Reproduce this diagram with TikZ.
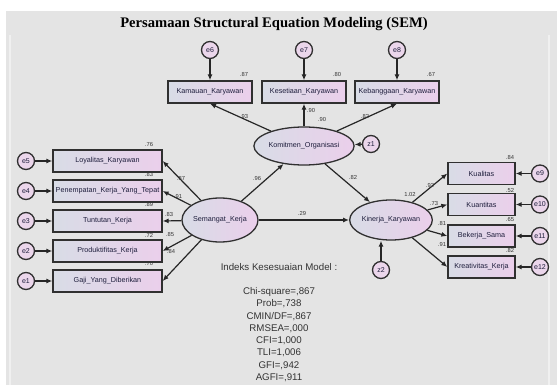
\documentclass[tikz,border=0pt]{standalone}
\usepackage{fontspec}
\setmainfont{Liberation Sans}
\newfontfamily\titlefont{Liberation Serif}
\usetikzlibrary{arrows.meta,shapes.geometric}
\definecolor{bgcol}{HTML}{E4E4E4}
\definecolor{lcol}{HTML}{D8DCE6}
\definecolor{rcol}{HTML}{EBCFEB}
\definecolor{circcol}{HTML}{EBD6EB}
\definecolor{edgecol}{HTML}{303030}
\definecolor{txtcol}{HTML}{1E1E3C}
\tikzset{
  obsbox/.style={draw=edgecol,line width=1.3pt,left color=lcol,right color=rcol,
    minimum height=22pt,inner sep=1pt,font=\fontsize{7.2}{8}\selectfont,text=txtcol},
  latent/.style={ellipse,draw=edgecol,line width=1.3pt,left color=lcol,right color=rcol,
    minimum width=76pt,minimum height=40pt,inner sep=0pt,font=\fontsize{7.2}{8}\selectfont,text=txtcol},
  errc/.style={circle,draw=edgecol,line width=1.3pt,fill=circcol,minimum size=17pt,
    inner sep=0pt,font=\fontsize{7}{8}\selectfont,text=txtcol},
  regarrow/.style={-{Latex[length=6pt,width=5pt]},line width=1.2pt,black!85},
  coef/.style={font=\fontsize{5.8}{6}\selectfont,text=black!80,inner sep=0.5pt},
  fitline/.style={font=\fontsize{9.7}{11}\selectfont,text=black!80,inner sep=0pt}
}
\begin{document}
\begin{tikzpicture}[x=1pt,y=-1pt]
\useasboundingbox (0,0) rectangle (558,385);
\fill[white] (0,0) rectangle (558,385);
\fill[bgcol] (6,11) rectangle (557,385);
\draw[white!45!bgcol,line width=1.5pt] (10,35) -- (10,385);
\draw[white!45!bgcol,line width=1.5pt] (549,35) -- (549,385);

\node[font=\titlefont\bfseries\fontsize{14.6}{16}\selectfont] (title) at (274,24) {Persamaan Structural Equation Modeling (SEM)};

% komitmen organisasi
\node[errc] (e6) at (210,50) {e6};
\node[errc] (e7) at (304,50) {e7};
\node[errc] (e8) at (397,50) {e8};
\node[obsbox,minimum width=84pt] (kam) at (210,92) {Kamauan\_Karyawan};
\node[obsbox,minimum width=84pt] (kes) at (304,92) {Kesetiaan\_Karyawan};
\node[obsbox,minimum width=84pt] (keb) at (397,92) {Kebanggaan\_Karyawan};
\node[latent,minimum height=38pt] (kom) at (304,146) {Komitmen\_Organisasi};
\node[errc] (z1) at (371,144) {z1};

% semangat kerja
\node[errc] (e5) at (26,161) {e5};
\node[errc] (e4) at (26,191) {e4};
\node[errc] (e3) at (26,221) {e3};
\node[errc] (e2) at (26,251) {e2};
\node[errc] (e1) at (26,281) {e1};
\node[obsbox,minimum width=109pt] (loy) at (107.5,161) {Loyalitas\_Karyawan};
\node[obsbox,minimum width=109pt] (pen) at (107.5,191) {Penempatan\_Kerja\_Yang\_Tepat};
\node[obsbox,minimum width=109pt] (tun) at (107.5,221) {Tuntutan\_Kerja};
\node[obsbox,minimum width=109pt] (pro) at (107.5,251) {Produktifitas\_Kerja};
\node[obsbox,minimum width=109pt] (gaj) at (107.5,281) {Gaji\_Yang\_Diberikan};
\node[latent,minimum height=44pt] (sem) at (220,220) {Semangat\_Kerja};

% kinerja karyawan
\node[latent] (kin) at (391,220) {Kinerja\_Karyawan};
\node[errc] (z2) at (381,270) {z2};
\node[obsbox,minimum width=67pt] (kua) at (481.5,173.5) {Kualitas};
\node[obsbox,minimum width=67pt] (kuan) at (481.5,204.5) {Kuantitas};
\node[obsbox,minimum width=67pt] (bek) at (481.5,236) {Bekerja\_Sama};
\node[obsbox,minimum width=67pt] (kre) at (481.5,267) {Kreativitas\_Kerja};
\node[errc] (e9) at (540,173.5) {e9};
\node[errc] (e10) at (540,204.5) {e10};
\node[errc] (e11) at (540,236) {e11};
\node[errc] (e12) at (540,267) {e12};

% arrows
\draw[regarrow] (e6) -- (kam);
\draw[regarrow] (e7) -- (kes);
\draw[regarrow] (e8) -- (keb);
\draw[regarrow] (kom) -- (kam.south);
\draw[regarrow] (kom) -- (kes);
\draw[regarrow] (kom) -- (keb.south);
\draw[regarrow] (z1) -- (kom);
\draw[regarrow] (e5) -- (loy);
\draw[regarrow] (e4) -- (pen);
\draw[regarrow] (e3) -- (tun);
\draw[regarrow] (e2) -- (pro);
\draw[regarrow] (e1) -- (gaj);
\draw[regarrow] (sem) -- (loy.east);
\draw[regarrow] (sem) -- (pen.east);
\draw[regarrow] (sem) -- (tun.east);
\draw[regarrow] (sem) -- (pro.east);
\draw[regarrow] (sem) -- (gaj.east);
\draw[regarrow] (sem) -- (kom);
\draw[regarrow] (sem) -- (kin);
\draw[regarrow] (kom) -- (kin);
\draw[regarrow] (z2) -- (z2 |- kin.south);
\draw[regarrow] (kin) -- (kua.west);
\draw[regarrow] (kin) -- (kuan.west);
\draw[regarrow] (kin) -- (bek.west);
\draw[regarrow] (kin) -- (kre.west);
\draw[regarrow] (e9) -- (kua);
\draw[regarrow] (e10) -- (kuan);
\draw[regarrow] (e11) -- (bek);
\draw[regarrow] (e12) -- (kre);

% estimates
\node[coef] (r1) at (244,75) {.87};
\node[coef] (r2) at (337,75) {.80};
\node[coef] (r3) at (431,75) {.67};
\node[coef] (w1) at (244,117) {.93};
\node[coef] (w2) at (311,111) {.90};
\node[coef] (r4) at (322,120) {.90};
\node[coef] (w3) at (365,117) {.82};
\node[coef] (r5) at (149,145) {.76};
\node[coef] (r6) at (149,175) {.83};
\node[coef] (r7) at (149,205) {.89};
\node[coef] (r8) at (149,235) {.72};
\node[coef] (r9) at (149,264) {.70};
\node[coef] (w4) at (181,179) {.87};
\node[coef] (w5) at (178,197) {.91};
\node[coef] (w6) at (169,215) {.83};
\node[coef] (w7) at (170,235) {.85};
\node[coef] (w8) at (171,252) {.84};
\node[coef] (w9) at (257,179) {.96};
\node[coef] (w10) at (302,214) {.29};
\node[coef] (w11) at (353,178) {.82};
\node[coef] (r10) at (410,195) {1.02};
\node[coef] (w12) at (430,186) {.92};
\node[coef] (w13) at (434,204) {.73};
\node[coef] (w14) at (442,224) {.81};
\node[coef] (w15) at (442,245) {.91};
\node[coef] (r11) at (510,158) {.84};
\node[coef] (r12) at (510,191) {.52};
\node[coef] (r13) at (510,220) {.65};
\node[coef] (r14) at (510,251) {.82};

% model fit
\node[fitline] (fithead) at (279,267) {Indeks Kesesuaian Model :};
\foreach \t [count=\i] in {{Chi-square=,867},{Prob=,738},{CMIN/DF=,867},{RMSEA=,000},
  {CFI=1,000},{TLI=1,006},{GFI=,942},{AGFI=,911}}
  \node[fitline] (fit\i) at (279,279.4+12.3*\i) {\t};
\end{tikzpicture}
\end{document}
